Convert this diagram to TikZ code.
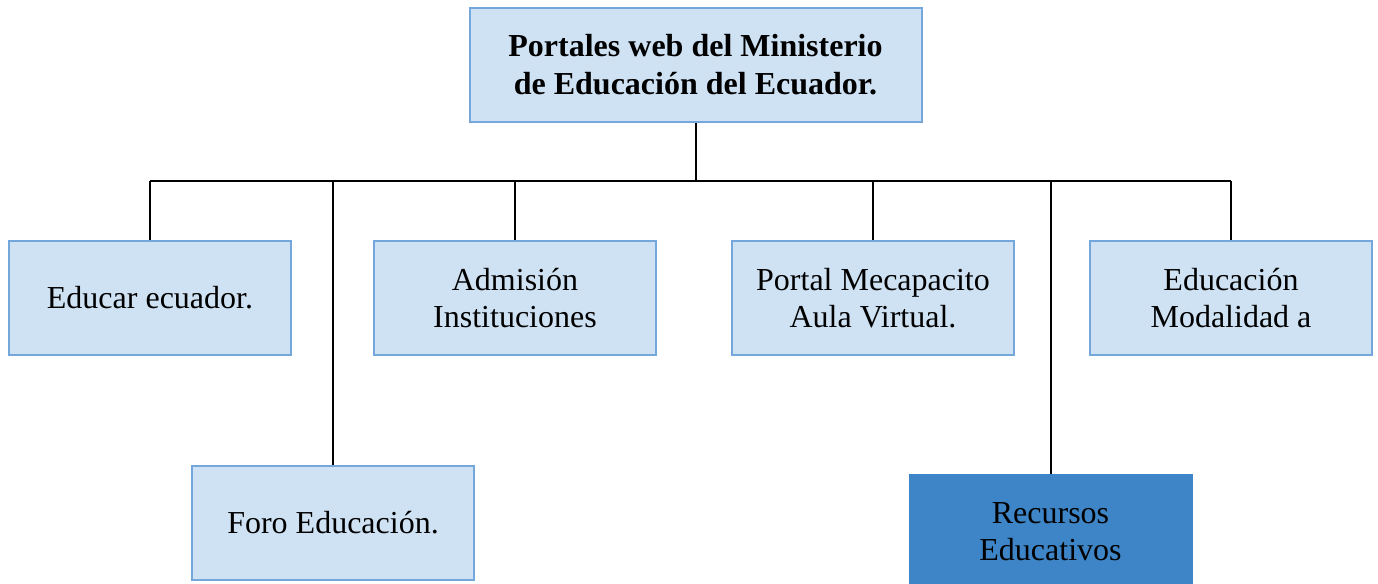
\documentclass[tikz,border=0pt]{standalone}
\usepackage{fontspec}
\setmainfont{Liberation Serif}
\definecolor{celeste}{RGB}{207,226,243}
\definecolor{bordeazul}{RGB}{116,168,220}
\definecolor{azul}{RGB}{61,133,198}
\tikzset{
  caja/.style={draw=bordeazul,fill=celeste,line width=1pt,minimum width=141pt,minimum height=57pt,
    align=center,font=\fontsize{16}{18.5}\selectfont,inner sep=0pt},
  cajaazul/.style={caja,draw=azul,fill=azul},
  linea/.style={line width=1pt}
}
\begin{document}
\begin{tikzpicture}[x=0.5pt,y=-0.5pt]
   \useasboundingbox (0,0) rectangle (1378,584);
   % raiz
   \node[caja,minimum width=226pt,font=\fontsize{16}{19}\selectfont\bfseries] (portales) at (695.5,65)
     {Portales web del Ministerio\\de Educación del Ecuador.};
   \coordinate (bus) at (695,181);

   % portales
   \node[caja] (educar)    at (150,298)  {Educar ecuador.};
   \node[caja] (admision)  at (515,298)  {Admisión\\Instituciones};
   \node[caja] (mecapacito) at (873,298) {Portal Mecapacito\\Aula Virtual.};
   \node[caja] (modalidad) at (1231,298) {Educación\\Modalidad a};
   \node[caja] (foro)      at (333,523)  {Foro Educación.};
   \node[cajaazul] (recursos) at (1050.5,532) {Recursos\\Educativos};

   % conectores
   \draw[linea] (portales.south) -- (portales.south |- bus);
   \draw[linea] (educar.north |- bus) -- (modalidad.north |- bus);
   \foreach \n in {educar,admision,mecapacito,modalidad,foro,recursos}
     \draw[linea] (\n.north) -- (\n.north |- bus);
\end{tikzpicture}
\end{document}
